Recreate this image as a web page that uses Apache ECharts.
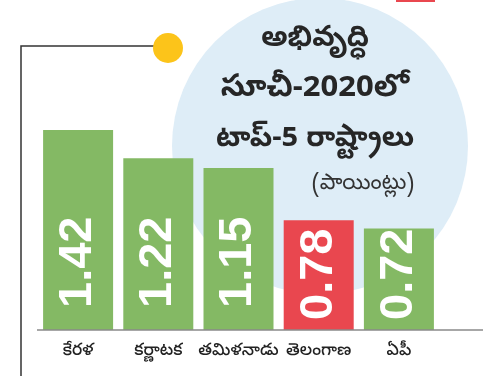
<!DOCTYPE html>
<html lang="te">
<head>
    <meta charset="UTF-8">
    <title>అభివృద్ధి సూచీ-2020లో టాప్-5 రాష్ట్రాలు</title>
    <script src="https://cdn.jsdelivr.net/npm/echarts@6/dist/echarts.min.js"></script>
    <style>
        html, body { margin: 0; padding: 0; background: #fff; }
        #chart { width: 483px; height: 376px; }
    </style>
</head>
<body>
    <div id="chart"></div>
    <script>
        var states = ['కేరళ', 'కర్ణాటక', 'తమిళనాడు', 'తెలంగాణ', 'ఏపీ'];
        var scores = [1.42, 1.22, 1.15, 0.78, 0.72];
        var highlight = 'తెలంగాణ';
        var titleLines = ['అభివృద్ధి', 'సూచీ-2020లో', 'టాప్-5 రాష్ట్రాలు'];
        var unitText = '(పాయింట్లు)';

        var GREEN = '#84b964';
        var RED = '#e9474f';
        var teluguFont = '"Noto Sans Telugu", "Noto Sans", "DejaVu Sans", sans-serif';

        var chart = echarts.init(document.getElementById('chart'));

        var option = {
            animation: false,
            backgroundColor: '#fff',
            grid: { left: 38, right: 44, top: 130, bottom: 46 },
            xAxis: {
                type: 'category',
                data: states,
                axisLine: { show: false },
                axisTick: { show: false },
                axisLabel: {
                    interval: 0,
                    color: '#222',
                    fontFamily: teluguFont,
                    fontSize: 17,
                    fontWeight: 500,
                    margin: 14
                }
            },
            yAxis: {
                type: 'value',
                min: 0,
                max: 1.42,
                show: false,
                splitLine: { show: false }
            },
            graphic: [
                // big light blue circle behind the title
                { type: 'circle', z: 0, shape: { cx: 320, cy: 146, r: 148 }, style: { fill: '#deedf7' } },
                // frame line on the left
                { type: 'polyline', z: 1, shape: { points: [[21, 376], [21, 46], [156, 46]] },
                  style: { stroke: '#333', lineWidth: 1.5, fill: null } },
                { type: 'circle', z: 2, shape: { cx: 168, cy: 48, r: 15 }, style: { fill: '#fcc41a' } },
                { type: 'rect', z: 1, shape: { x: 396, y: 0, width: 39, height: 2 }, style: { fill: '#e9474f' } },
                // baseline
                { type: 'line', z: 5, shape: { x1: 37, y1: 330, x2: 483, y2: 330 },
                  style: { stroke: '#8a8a8a', lineWidth: 1.5 } },
                { type: 'text', z: 10, style: { text: titleLines[0], x: 315, y: 42, align: 'center', verticalAlign: 'middle',
                  font: 'bold 29px ' + teluguFont, fill: '#262626' } },
                { type: 'text', z: 10, style: { text: titleLines[1], x: 315, y: 92, align: 'center', verticalAlign: 'middle',
                  font: 'bold 31px ' + teluguFont, fill: '#262626' } },
                { type: 'text', z: 10, style: { text: titleLines[2], x: 315, y: 142, align: 'center', verticalAlign: 'middle',
                  font: 'bold 29px ' + teluguFont, fill: '#262626' } },
                { type: 'text', z: 10, style: { text: unitText, x: 363, y: 186, align: 'center', verticalAlign: 'middle',
                  font: '22px ' + teluguFont, fill: '#333' } }
            ],
            series: [{
                type: 'bar',
                barWidth: 70,
                data: scores.map(function (v, i) {
                    return {
                        value: v,
                        itemStyle: { color: states[i] === highlight ? RED : GREEN },
                        label: { distance: v < 1 ? 10 : 22 }
                    };
                }),
                label: {
                    show: true,
                    position: 'insideBottom',
                    rotate: 90,
                    align: 'left',
                    verticalAlign: 'middle',
                    distance: 22,
                    color: '#fff',
                    fontFamily: '"Liberation Sans", Arial, sans-serif',
                    fontWeight: 'bold',
                    fontSize: 47,
                    formatter: function (p) { return p.value.toFixed(2); }
                }
            }]
        };

        chart.setOption(option);
    </script>
</body>
</html>
